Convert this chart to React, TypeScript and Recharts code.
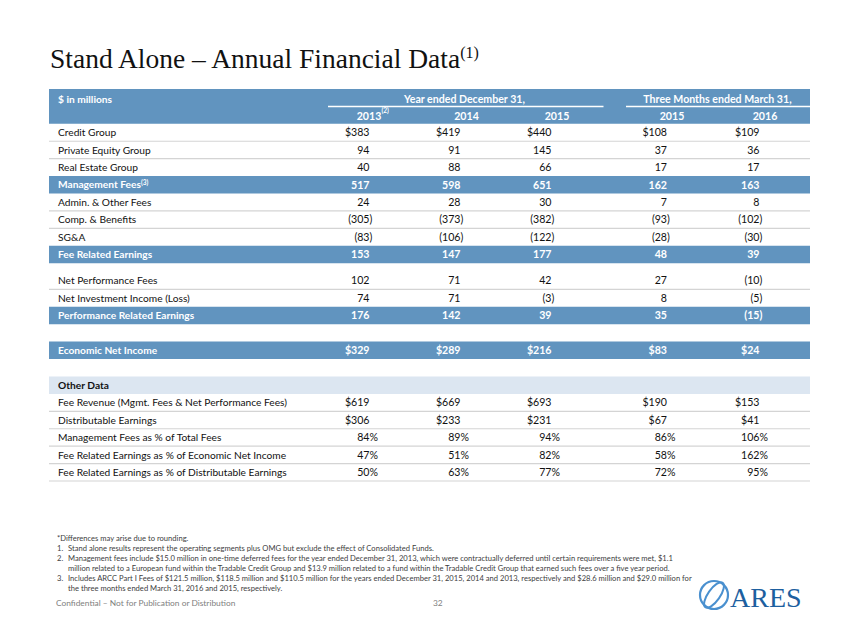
import React from 'react';
import { ComposedChart, XAxis, YAxis, Scatter, ReferenceArea, ReferenceLine } from 'recharts';

// rows of the table
const rowLabels = [
  'Credit Group',
  'Private Equity Group',
  'Real Estate Group',
  'Management Fees',
  'Admin. & Other Fees',
  'Comp. & Benefits',
  'SG&A',
  'Fee Related Earnings',
  'Net Performance Fees',
  'Net Investment Income (Loss)',
  'Performance Related Earnings',
  'Economic Net Income',
  'Fee Revenue (Mgmt. Fees & Net Performance Fees)',
  'Distributable Earnings',
  'Management Fees as % of Total Fees',
  'Fee Related Earnings as % of Economic Net Income',
  'Fee Related Earnings as % of Distributable Earnings',
];
const rowNotes = ['', '', '', '(3)', '', '', '', '', '', '', '', '', '', '', '', '', ''];
const rowUnits = ['$', '', '', '', '', '', '', '', '', '', '', '$', '$', '$', '%', '%', '%'];
const bandRows = [3, 7, 10, 11];

// series values ($ in millions / %)
const fy2013 = [383, 94, 40, 517, 24, -305, -83, 153, 102, 74, 176, 329, 619, 306, 84, 47, 50];
const fy2014 = [419, 91, 88, 598, 28, -373, -106, 147, 71, 71, 142, 289, 669, 233, 89, 51, 63];
const fy2015 = [440, 145, 66, 651, 30, -382, -122, 177, 42, -3, 39, 216, 693, 231, 94, 82, 77];
const q2015 = [108, 37, 17, 162, 7, -93, -28, 48, 27, 8, 35, 83, 190, 67, 86, 58, 72];
const q2016 = [109, 36, 17, 163, 8, -102, -30, 39, -10, -5, -15, 24, 153, 41, 106, 162, 95];
const columns = [fy2013, fy2014, fy2015, q2015, q2016];

// header tick labels
const yearLabels = ['2013', '2014', '2015', '2015', '2016'];
const yearNotes = ['(2)', '', '', '', ''];
const groupLabels = ['Year ended December 31,', 'Three Months ended March 31,'];

const footnotes = [
  ['', '*Differences may arise due to rounding.'],
  ['1.', 'Stand alone results represent the operating segments plus OMG but exclude the effect of Consolidated Funds.'],
  ['2.', 'Management fees include $15.0 million in one-time deferred fees for the year ended December 31, 2013, which were contractually deferred until certain requirements were met, $1.1'],
  ['', 'million related to a European fund within the Tradable Credit Group and $13.9 million related to a fund within the Tradable Credit Group that earned such fees over a five year period.'],
  ['3.', 'Includes ARCC Part I Fees of $121.5 million, $118.5 million and $110.5 million for the years ended December 31, 2015, 2014 and 2013, respectively and $28.6 million and $29.0 million for'],
  ['', 'the three months ended March 31, 2016 and 2015, respectively.'],
];

// layout (table units: x in px from table left, y in row heights)
const rowTop = [2, 3, 4, 5, 6, 7, 8, 9, 10.5, 11.5, 12.5, 14.5, 17.5, 18.5, 19.5, 20.5, 21.5];
const otherDataTop = 16.5;
const colRight = [320.5, 411.5, 502.5, 618, 710.5];
const yearCenter = [320, 417.5, 508, 623, 716];
const groupCenter = [415.5, 668.5];
const groupLine = [[279, 554.5], [577, 761]];
const labelX = 9;
const ruleRows = [3, 4, 7, 8, 11.5, 18.5, 19.5, 20.5, 21.5, 22.5];

const BLUE = '#6194bf';
const FONT = 'Lato, "Open Sans", sans-serif';
const SIZE = 10.2;

function format(v: number, unit: string) {
  const neg = v < 0;
  const main = (neg ? '(' : '') + (unit === '$' ? '$' : '') + Math.abs(v);
  const suffix = (neg ? ')' : '') + (unit === '%' ? '%' : '');
  return { main, suffix };
}

const ValueCell = (p: any) => {
  const { cx, cy, payload } = p;
  const { main, suffix } = format(payload.value, payload.unit);
  const fill = payload.band ? '#ffffff' : '#111111';
  const weight = payload.band ? 700 : 400;
  return (
    <g>
      <text x={cx} y={cy} dy="0.36em" textAnchor="end" fontFamily={FONT} fontSize={10.6} fontWeight={weight} fill={fill}>
        {main}
      </text>
      {suffix && (
        <text x={cx} y={cy} dy="0.36em" textAnchor="start" fontFamily={FONT} fontSize={10.6} fontWeight={weight} fill={fill}>
          {suffix}
        </text>
      )}
    </g>
  );
};

const LabelCell = (p: any) => {
  const { cx, cy, payload } = p;
  const fill = payload.band ? '#ffffff' : '#111111';
  return (
    <text x={cx} y={cy} dy="0.36em" textAnchor="start" fontFamily={FONT} fontSize={SIZE} fontWeight={payload.bold ? 700 : 400} fill={fill}>
      {payload.text}
      {payload.note && (
        <tspan fontSize={6.5} dy="-0.55em">{payload.note}</tspan>
      )}
    </text>
  );
};

const HeaderCell = (p: any) => {
  const { cx, cy, payload } = p;
  return (
    <g>
      <text x={cx} y={cy} dy="0.36em" textAnchor="middle" fontFamily={FONT} fontSize={10.6} fontWeight={700} fill="#ffffff">
        {payload.text}
      </text>
      {payload.note && (
        <text x={cx + 12.5} y={cy - 3} textAnchor="start" fontFamily={FONT} fontSize={6.5} fontWeight={700} fill="#ffffff">
          {payload.note}
        </text>
      )}
    </g>
  );
};

const labelData = [
  ...rowLabels.map((text, i) => ({
    x: labelX,
    y: rowTop[i] + 0.5,
    text,
    note: rowNotes[i],
    band: bandRows.includes(i),
    bold: bandRows.includes(i),
  })),
  { x: labelX, y: otherDataTop + 0.5, text: 'Other Data', note: '', band: false, bold: true },
  { x: labelX, y: 0.6, text: '$ in millions', note: '', band: true, bold: true },
];

const headerData = [
  ...yearLabels.map((text, i) => ({ x: yearCenter[i], y: 1.55, text, note: yearNotes[i] })),
  ...groupLabels.map((text, i) => ({ x: groupCenter[i], y: 0.6, text, note: '' })),
];

const columnData = columns.map((col, c) =>
  col.map((value, i) => ({
    x: colRight[c],
    y: rowTop[i] + 0.5,
    value,
    unit: rowUnits[i],
    band: bandRows.includes(i),
  }))
);

function Slide() {
  return (
    <svg width={847} height={635} style={{ position: 'absolute', left: 0, top: 0 }}>
      <text x={50} y={68} fontFamily='"Liberation Serif", serif' fontSize={27.5} fill="#111111">
        Stand Alone – Annual Financial Data
        <tspan fontSize={16} dy={-10}>(1)</tspan>
      </text>
      {footnotes.map(([num, line], i) => (
        <g key={i} fontFamily={FONT} fontSize={7.6} fill="#404040">
          {num && <text x={57} y={541 + i * 10}>{num}</text>}
          <text x={i === 0 ? 57 : 68} y={541 + i * 10}>{line}</text>
        </g>
      ))}
      <text x={56} y={606} fontFamily={FONT} fontSize={8.4} fill="#808080">
        Confidential – Not for Publication or Distribution
      </text>
      <text x={433} y={606} fontFamily={FONT} fontSize={8.4} fill="#808080">32</text>
      <g>
        <circle cx={714} cy={595} r={14} fill="none" stroke="#4a90cf" strokeWidth={2.2} />
        <ellipse cx={714} cy={595} rx={15} ry={6} fill="none" stroke="#4a90cf" strokeWidth={2} transform="rotate(-55 714 595)" />
        <text x={730} y={607} fontFamily='"Liberation Serif", serif' fontSize={28} fill="#1d5f9f">ARES</text>
      </g>
    </svg>
  );
}

export default function App() {
  return (
    <div style={{ position: 'absolute', left: 0, top: 0, width: 847, height: 635, background: '#ffffff' }}>
      <Slide />
      <div style={{ position: 'absolute', left: 0, top: 0 }}>
        <ComposedChart width={847} height={635} margin={{ top: 89, right: 37, bottom: 154, left: 49 }}>
          <XAxis type="number" dataKey="x" domain={[0, 761]} hide allowDataOverflow />
          <YAxis type="number" dataKey="y" domain={[0, 22.5]} reversed hide allowDataOverflow />
          <ReferenceArea y1={0} y2={2} fill={BLUE} fillOpacity={1} stroke="none" />
          {bandRows.map((r) => (
            <ReferenceArea key={r} y1={rowTop[r]} y2={rowTop[r] + 1} fill={BLUE} fillOpacity={1} stroke="none" />
          ))}
          <ReferenceArea y1={otherDataTop} y2={otherDataTop + 1} fill="#dce6f1" fillOpacity={1} stroke="none" />
          {ruleRows.map((y) => (
            <ReferenceLine key={y} y={y} stroke="#d4d4d4" strokeWidth={1.2} />
          ))}
          {groupLine.map(([a, b], i) => (
            <ReferenceLine key={i} segment={[{ x: a, y: 1 }, { x: b, y: 1 }]} stroke="#ffffff" strokeWidth={1.5} />
          ))}
          <Scatter data={labelData} shape={(p: any) => <LabelCell {...p} />} isAnimationActive={false} />
          <Scatter data={headerData} shape={(p: any) => <HeaderCell {...p} />} isAnimationActive={false} />
          {columnData.map((d, c) => (
            <Scatter key={c} data={d} shape={(p: any) => <ValueCell {...p} />} isAnimationActive={false} />
          ))}
        </ComposedChart>
      </div>
    </div>
  );
}
